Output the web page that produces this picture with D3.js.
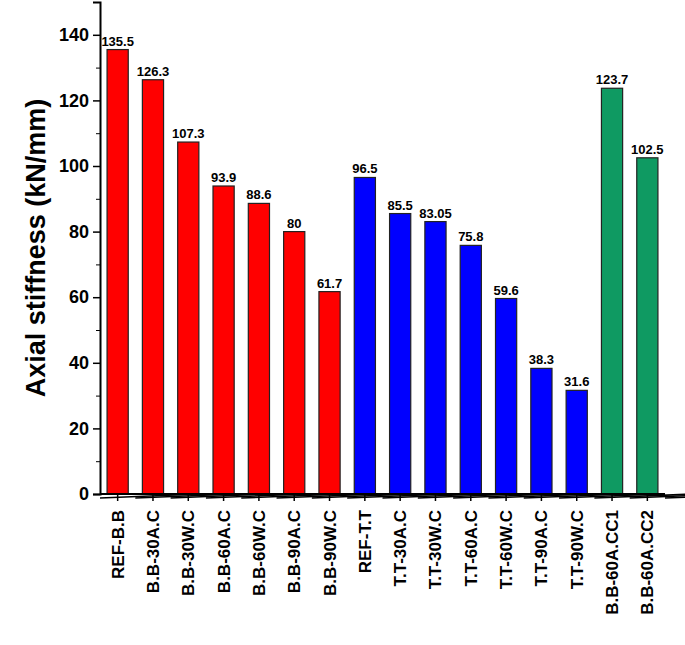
<!DOCTYPE html><html><head><script src="https://d3js.org/d3.v7.min.js"></script>
<style>body{margin:0;background:#fff}text{font-family:Arial,"Liberation Sans",sans-serif;font-weight:bold}</style></head><body><svg id="c" width="685" height="645"></svg>
<script>
const categories=["REF-B.B","B.B-30A.C","B.B-30W.C","B.B-60A.C","B.B-60W.C","B.B-90A.C","B.B-90W.C","REF-T.T","T.T-30A.C","T.T-30W.C","T.T-60A.C","T.T-60W.C","T.T-90A.C","T.T-90W.C","B.B-60A.CC1","B.B-60A.CC2"];
const values=[135.5,126.3,107.3,93.9,88.6,80,61.7,96.5,85.5,83.05,75.8,59.6,38.3,31.6,123.7,102.5];
const labels=["135.5","126.3","107.3","93.9","88.6","80","61.7","96.5","85.5","83.05","75.8","59.6","38.3","31.6","123.7","102.5"];
const groups=["r","r","r","r","r","r","r","b","b","b","b","b","b","b","g","g"];
const colors={r:"#ff0000",b:"#0000ff",g:"#0f9a62"};
const yTicks=[0,20,40,60,80,100,120,140];
const svg=d3.select("#c");
const L=100,R=665,T=2,B=494;
const x=d3.scaleBand().domain(categories).range([L,R]).paddingInner(0.4).paddingOuter(0.2);
const y=d3.scaleLinear().domain([0,150]).range([B,T]);
svg.selectAll("rect.bar").data(values).enter().append("rect").attr("class","bar")
 .attr("x",(d,i)=>x(categories[i])).attr("width",x.bandwidth()).attr("y",d=>y(d)).attr("height",d=>B-y(d))
 .attr("fill",(d,i)=>colors[groups[i]]).attr("stroke","#222").attr("stroke-width",1.2);
svg.selectAll("text.val").data(values).enter().append("text")
 .attr("x",(d,i)=>x(categories[i])+x.bandwidth()/2).attr("y",d=>y(d)-4).attr("text-anchor","middle")
 .attr("font-size",13).text((d,i)=>labels[i]);
const ya=svg.append("g").attr("transform",`translate(${L},0)`).call(d3.axisLeft(y).tickValues(yTicks).tickSize(7).tickPadding(4));
ya.select(".domain").attr("stroke-width",2);
ya.selectAll("text").attr("font-size",18).attr("font-weight","bold");
ya.selectAll("line").attr("stroke-width",1.5);
svg.append("g").attr("transform",`translate(${L},0)`).call(d3.axisLeft(y).tickValues(d3.range(10,150,20)).tickSize(4).tickFormat("")).call(g=>g.select(".domain").remove());
const xa=svg.append("g").attr("transform",`translate(0,${B})`).call(d3.axisBottom(x).tickSize(7).tickFormat(""));
xa.select(".domain").attr("d",`M${L},0H${R}`).attr("stroke-width",2);
xa.selectAll("line").attr("stroke-width",1.5);
const step=x.step();
svg.append("g").selectAll("line").data(d3.range(categories.length+1)).enter().append("line")
 .attr("x1",i=>L+step*0.2*0+ (x(categories[0])-step*0.2)+i*step).attr("x2",i=>(x(categories[0])-step*0.2)+i*step)
 .attr("y1",B).attr("y2",B+4).attr("stroke","#000").attr("stroke-width",1.5);
svg.append("g").selectAll("text").data(categories).enter().append("text")
 .attr("transform",d=>`translate(${x(d)+x.bandwidth()/2+6},510) rotate(-90)`).attr("text-anchor","end")
 .attr("font-size",17).text(d=>d);
svg.append("text").attr("transform",`translate(45,${(T+B)/2}) rotate(-90)`).attr("text-anchor","middle").attr("font-size",27).text("Axial stiffness (kN/mm)");
</script></body></html>
